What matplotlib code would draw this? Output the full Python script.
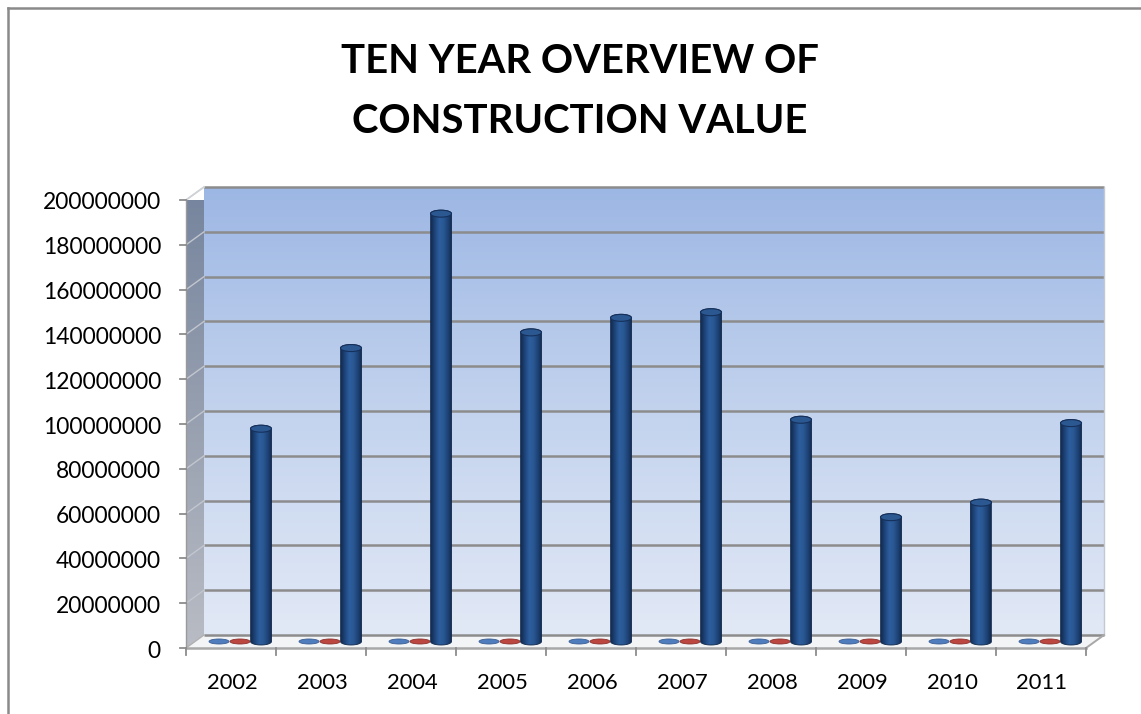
import numpy as np
import matplotlib
matplotlib.use("Agg")
import matplotlib.pyplot as plt
from matplotlib.colors import LinearSegmentedColormap
from matplotlib.patches import Polygon, Ellipse
from matplotlib.lines import Line2D

# ---------------- data ----------------
years = ['2002', '2003', '2004', '2005', '2006', '2007', '2008', '2009', '2010', '2011']
construction_value = [95.0e6, 131.0e6, 191.0e6, 138.0e6, 144.5e6, 147.0e6, 99.0e6, 55.5e6, 62.0e6, 97.5e6]
series_blue = [0, 0, 0, 0, 0, 0, 0, 0, 0, 0]
series_red = [0, 0, 0, 0, 0, 0, 0, 0, 0, 0]
y_ticks = [0, 20000000, 40000000, 60000000, 80000000, 100000000,
           120000000, 140000000, 160000000, 180000000, 200000000]
title_lines = ['TEN YEAR OVERVIEW OF', 'CONSTRUCTION VALUE']

# ---------------- figure ----------------
W, H = 1141, 714
DPI = 100
plt.rcParams['font.family'] = ['Lato', 'DejaVu Sans']
fig = plt.figure(figsize=(W / DPI, H / DPI), dpi=DPI)
fig.patch.set_facecolor('white')
renderer = fig.canvas.get_renderer()

def fit_width(texts, ref_text, target_px):
    w = ref_text.get_window_extent(renderer).width
    scale = target_px / w
    for t in texts:
        t.set_fontsize(t.get_fontsize() * scale)

# front plane of the 3D plot box (pixels, top-origin)
fx0, fx1, fy_top, fy_bot = 186, 1086, 200, 648
ax = fig.add_axes([fx0 / W, (H - fy_bot) / H, (fx1 - fx0) / W, (fy_bot - fy_top) / H])
ncat = len(years)
ymax = y_ticks[-1]
ax.set_xlim(0, ncat)
ax.set_ylim(0, ymax)
ax.axis('off')

# pixel -> data unit conversions
px_x = ncat / (fx1 - fx0)
px_y = ymax / (fy_bot - fy_top)
DX = 18 * px_x   # depth offset (back wall shift)
DY = 13 * px_y

# chart-area border (left and top visible)
fig.add_artist(Line2D([8 / W, 8 / W], [0, 1 - 8 / H], color='#8a8a8a', lw=1.8))
fig.add_artist(Line2D([8 / W, 1], [1 - 8 / H, 1 - 8 / H], color='#8a8a8a', lw=1.8))

# ---------------- back wall ----------------
wall_cmap = LinearSegmentedColormap.from_list('wall', ['#e2e9f6', '#c3d3ee', '#9db7e4'])
grad = np.linspace(0, 1, 256).reshape(-1, 1)
ax.imshow(grad, extent=[DX, ncat + DX, DY, ymax + DY], origin='lower',
          cmap=wall_cmap, aspect='auto', zorder=1, clip_on=False, interpolation='bilinear')

# ---------------- left wall ----------------
lw_poly = Polygon([(0, 0), (0, ymax), (DX, ymax + DY), (DX, DY)], closed=True,
                  facecolor='none', edgecolor='none', transform=ax.transData)
ax.add_patch(lw_poly)
left_cmap = LinearSegmentedColormap.from_list('lwall', ['#b9bcc4', '#97a0b0', '#75849d'])
im_l = ax.imshow(grad, extent=[0, DX, 0, ymax + DY], origin='lower', cmap=left_cmap,
                 aspect='auto', zorder=1.5, interpolation='bilinear')
im_l.set_clip_path(lw_poly)

# ---------------- floor ----------------
floor = Polygon([(0, 0), (ncat, 0), (ncat + DX, DY), (DX, DY)], closed=True,
                facecolor='#f3f4f6', edgecolor='none', zorder=2, clip_on=False)
ax.add_patch(floor)

# gridlines
for v in y_ticks:
    ax.plot([DX, ncat + DX], [v + DY, v + DY], color='#8c8c8c', lw=1.8, zorder=2.2,
            clip_on=False, solid_capstyle='butt')
    if v > 0:
        ax.plot([0, DX], [v, v + DY], color='#c2c6ce', lw=1.0, zorder=2.2, clip_on=False)
# left wall top edge & back wall right edge
ax.plot([0, DX], [ymax, ymax + DY], color='#d0d3d8', lw=1.2, zorder=2.3, clip_on=False)
ax.plot([ncat + DX, ncat + DX], [DY, ymax + DY], color='#c4c8d0', lw=1.0, zorder=2.3, clip_on=False)
# floor edges
ax.plot([0, ncat], [0, 0], color='#a8a8a8', lw=1.8, zorder=2.4, clip_on=False)
ax.plot([ncat, ncat + DX], [0, DY], color='#a8a8a8', lw=1.4, zorder=2.4, clip_on=False)
ax.plot([0, DX], [0, DY], color='#b0b0b0', lw=1.0, zorder=2.4, clip_on=False)
# left axis line
ax.plot([0, 0], [0, ymax], color='#9a9a9a', lw=1.0, zorder=2.4, clip_on=False)

# ticks and labels
ylabels = []
for v in y_ticks:
    ax.plot([-6 * px_x, 0], [v, v], color='#8c8c8c', lw=1.3, zorder=2.5, clip_on=False)
    ylabels.append(ax.text(-25 * px_x, v - 3 * px_y, f'{v:d}', ha='right', va='center',
                           fontsize=16, color='black', zorder=5))
fit_width(ylabels, ylabels[-1], 119)

for i in range(ncat + 1):
    ax.plot([i, i], [0, -7 * px_y], color='#8c8c8c', lw=1.3, zorder=2.5, clip_on=False)
xlabels = []
for i, yr in enumerate(years):
    xlabels.append(ax.text(i + 0.5 + 1 * px_x, -35 * px_y, yr, ha='center', va='center',
                           fontsize=16, color='black', zorder=5))
fit_width(xlabels, xlabels[0], 51)

# ---------------- bars ----------------
mid_dx, mid_dy = DX * 0.5, DY * 0.5
bw = 21 * px_x          # bar width in category units
step = 21 * px_x        # spacing between series
eh_top = 7 * px_y
disc_h = 5 * px_y

cyl_cmap = LinearSegmentedColormap.from_list(
    'cyl', ['#132c52', '#1f467d', '#2d5e9e', '#2a5893', '#1e4478', '#122a4f'])
hgrad = np.linspace(0, 1, 128).reshape(1, -1)

def cyl_outline(xc, w, y0, y1, eh):
    t_top = np.linspace(np.pi, 0, 40)
    t_bot = np.linspace(0, -np.pi, 40)
    pts = [(xc - w / 2, y0), (xc - w / 2, y1)]
    pts += list(zip(xc + w / 2 * np.cos(t_top), y1 + eh / 2 * np.sin(t_top)))
    pts += [(xc + w / 2, y0)]
    pts += list(zip(xc + w / 2 * np.cos(t_bot), y0 + eh / 2 * np.sin(t_bot)))
    return pts

for i in range(ncat):
    c = i + 0.5 + mid_dx
    # zero-value series discs
    for k, (vals, fc, ec) in enumerate([(series_blue, '#4f7cbd', '#3a5d92'),
                                         (series_red, '#bc4741', '#8c302b')]):
        xc = c + (k - 1) * step
        ax.add_patch(Ellipse((xc, vals[i] + mid_dy), bw * 0.95, disc_h, facecolor=fc,
                             edgecolor=ec, lw=0.6, zorder=3, clip_on=False))
    # main cylinder
    v = construction_value[i]
    xc = c + step
    y0 = mid_dy
    y1 = v + mid_dy
    outline = Polygon(cyl_outline(xc, bw, y0, y1, eh_top), closed=True, facecolor='none',
                      edgecolor='#10284a', lw=0.6, zorder=4.1, clip_on=False)
    ax.add_patch(outline)
    im = ax.imshow(hgrad, extent=[xc - bw / 2, xc + bw / 2, y0 - eh_top, y1 + eh_top],
                   origin='lower', cmap=cyl_cmap, aspect='auto', zorder=4,
                   interpolation='bilinear')
    im.set_clip_path(outline)
    ax.add_patch(Ellipse((xc, y1), bw, eh_top, facecolor='#2c5892', edgecolor='#15305a',
                         lw=0.8, zorder=4.2, clip_on=False))

ax.set_xlim(0, ncat)
ax.set_ylim(0, ymax)

# ---------------- title ----------------
t1 = fig.text(580 / W, 1 - 73 / H, title_lines[0], ha='center', va='baseline',
              fontsize=28, fontweight='bold', color='black')
t2 = fig.text(580 / W, 1 - 133 / H, title_lines[1], ha='center', va='baseline',
              fontsize=28, fontweight='bold', color='black')
fit_width([t1, t2], t2, 456)

fig.savefig('out.png', dpi=DPI, facecolor='white')
